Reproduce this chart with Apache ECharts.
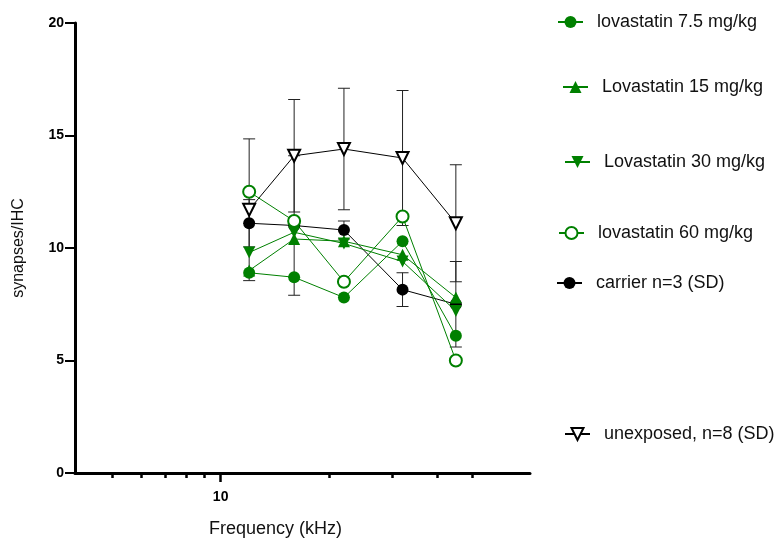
<!DOCTYPE html>
<html>
<head>
<meta charset="utf-8">
<script src="https://cdn.jsdelivr.net/npm/echarts@6/dist/echarts.min.js"></script>
<style>
  html, body { margin: 0; padding: 0; background: #fff; }
  #main { width: 783px; height: 540px; }
</style>
</head>
<body>
<div id="main"></div>
<script>
// frequencies (kHz) of the five measured points
var freqs = [12, 16, 22, 32, 45];

// synapses per IHC
var lova75 = [8.9, 8.7, 7.8, 10.3, 6.1];
var lova15 = [9.0, 10.4, 10.3, 9.7, 7.8];
var lova30 = [9.8, 10.7, 10.2, 9.4, 7.2];
var lova60 = [12.5, 11.2, 8.5, 11.4, 5.0];
var carrier = [11.1, 11.0, 10.8, 8.15, 7.5];
var carrierSD = [1.05, 3.1, 0.4, 0.75, 1.9];
var unexposed = [11.7, 14.1, 14.4, 14.0, 11.1];
var unexposedSD = [3.15, 2.5, 2.7, 3.0, 2.6];

// axis
var xMinFreq = 3.94, xMaxFreq = 72.3;
var xMinorTicks = [5, 6, 7, 8, 9, 10, 20, 30, 40, 50];
var xMajorTicks = [10];
var yTicks = [0, 5, 10, 15, 20];

var names = ['lovastatin 7.5 mg/kg', 'Lovastatin 15 mg/kg', 'Lovastatin 30 mg/kg',
             'lovastatin 60 mg/kg', 'carrier n=3 (SD)', 'unexposed, n=8 (SD)'];

var GREEN = '#008000';
var FONT = 'Liberation Sans, Arial, sans-serif';

function lg(v) { return Math.log10(v); }

function pts(vals) {
    var out = [];
    for (var i = 0; i < vals.length; i++) out.push([lg(freqs[i]), vals[i]]);
    return out;
}
function bars(vals, sd) {
    var out = [];
    for (var i = 0; i < vals.length; i++) out.push([lg(freqs[i]), vals[i] - sd[i], vals[i] + sd[i]]);
    return out;
}

function errorBar(params, api) {
    var lo = api.coord([api.value(0), api.value(1)]);
    var hi = api.coord([api.value(0), api.value(2)]);
    var w = 6;
    var st = { stroke: '#222', lineWidth: 1 };
    return {
        type: 'group',
        children: [
            { type: 'line', shape: { x1: lo[0], y1: lo[1], x2: hi[0], y2: hi[1] }, style: st },
            { type: 'line', shape: { x1: lo[0] - w, y1: lo[1], x2: lo[0] + w, y2: lo[1] }, style: st },
            { type: 'line', shape: { x1: hi[0] - w, y1: hi[1], x2: hi[0] + w, y2: hi[1] }, style: st }
        ]
    };
}

function lineSeries(name, vals, color, symbol, rotate, empty) {
    return {
        name: name,
        type: 'line',
        data: pts(vals),
        symbol: symbol,
        symbolRotate: rotate,
        symbolSize: 12,
        lineStyle: { color: color, width: 1 },
        itemStyle: empty
            ? { color: '#fff', borderColor: color, borderWidth: 2 }
            : { color: color, borderWidth: 0 },
        z: 3
    };
}

// legend positions (icon left, text centre y)
var legendPos = [[557, 22], [562, 87], [564, 162], [558, 233], [556, 283], [564, 434]];
var legends = [];
for (var i = 0; i < names.length; i++) {
    legends.push({
        data: [names[i]],
        left: legendPos[i][0],
        top: legendPos[i][1] - 9,
        padding: 0,
        itemWidth: 25,
        itemHeight: 15,
        textStyle: { fontSize: 18, fontFamily: FONT, color: '#111', padding: [0, 0, 0, 9] }
    });
}

var myChart = echarts.init(document.getElementById('main'), null, { renderer: 'canvas' });

var option = {
    animation: false,
    backgroundColor: '#fff',
    legend: legends,
    grid: { left: 75, right: 253, top: 23, bottom: 67, containLabel: false },
    graphic: [{
        type: 'text',
        left: 209,
        top: 520,
        style: { text: 'Frequency (kHz)', font: '18px ' + FONT, fill: '#111' }
    }],
    xAxis: [{
        type: 'value',
        position: 'bottom',
        min: lg(xMinFreq),
        max: lg(xMaxFreq),
        splitLine: { show: false },
        axisLine: { show: true, lineStyle: { color: '#000', width: 3 } },
        axisTick: {
            show: true, length: 5, lineStyle: { color: '#000', width: 2.5 },
            customValues: xMinorTicks.map(lg)
        },
        axisLabel: {
            customValues: xMajorTicks.map(lg),
            formatter: function (v) { return String(Math.round(Math.pow(10, v))); },
            fontSize: 14, fontWeight: 'bold', fontFamily: FONT, color: '#000', margin: 17
        }
    }, {
        type: 'value',
        position: 'bottom',
        min: lg(xMinFreq),
        max: lg(xMaxFreq),
        splitLine: { show: false },
        axisLine: { show: false },
        axisTick: {
            show: true, length: 9, lineStyle: { color: '#000', width: 2.5 },
            customValues: xMajorTicks.map(lg)
        },
        axisLabel: { show: false }
    }],
    yAxis: {
        type: 'value',
        min: 0,
        max: 20,
        interval: 5,
        name: 'synapses/IHC',
        nameLocation: 'middle',
        nameGap: 48,
        nameTextStyle: { fontSize: 16, fontFamily: FONT, color: '#111' },
        splitLine: { show: false },
        axisLine: { show: true, lineStyle: { color: '#000', width: 3 } },
        axisTick: { show: true, length: 10, lineStyle: { color: '#000', width: 2 } },
        axisLabel: {
            fontSize: 14, fontWeight: 'bold', fontFamily: FONT, color: '#000', margin: 11,
            formatter: function (v) { return yTicks.indexOf(v) >= 0 ? String(v) : ''; }
        }
    },
    series: [
        { type: 'custom', renderItem: errorBar, data: bars(unexposed, unexposedSD), z: 2, silent: true },
        { type: 'custom', renderItem: errorBar, data: bars(carrier, carrierSD), z: 2, silent: true },
        lineSeries(names[5], unexposed, '#000', 'triangle', 180, true),
        lineSeries(names[4], carrier, '#000', 'circle', 0, false),
        lineSeries(names[0], lova75, GREEN, 'circle', 0, false),
        lineSeries(names[1], lova15, GREEN, 'triangle', 0, false),
        lineSeries(names[2], lova30, GREEN, 'triangle', 180, false),
        lineSeries(names[3], lova60, GREEN, 'circle', 0, true)
    ]
};

myChart.setOption(option);
</script>
</body>
</html>
